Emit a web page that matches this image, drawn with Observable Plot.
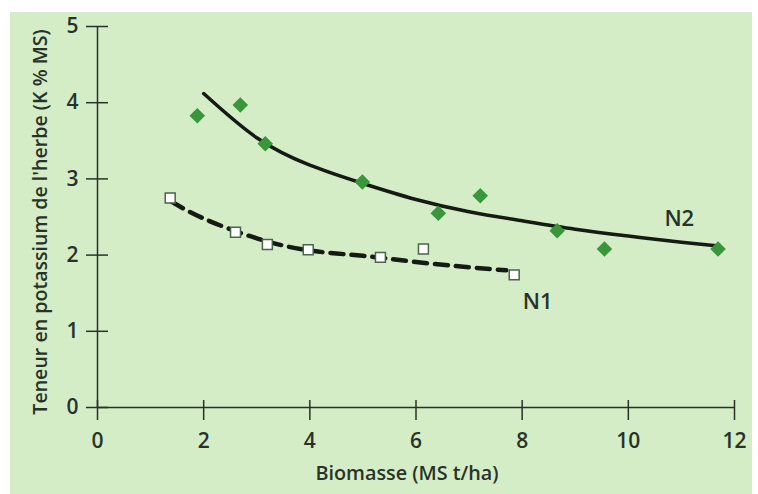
<!DOCTYPE html>
<html>
<head>
<meta charset="utf-8">
<script src="https://cdn.jsdelivr.net/npm/d3@7"></script>
<script src="https://cdn.jsdelivr.net/npm/@observablehq/plot@0.6"></script>
<style>
  html, body { margin: 0; padding: 0; background: #ffffff; }
  #wrap { position: relative; width: 758px; height: 494px; overflow: hidden; }
  #panel { position: absolute; left: 10px; top: 12px; width: 742px; height: 482px; background: #d5edc6; }
  #chart { position: absolute; left: 0; top: 0; }
  #chart svg { background: transparent; }
</style>
</head>
<body>
<div id="wrap"><div id="panel"></div><div id="chart"></div></div>
<script>
// Observed points, N2 (green diamonds)
const n2X = [1.88, 2.69, 3.16, 4.99, 6.42, 7.21, 8.66, 9.55, 11.69];
const n2Y = [3.83, 3.97, 3.46, 2.96, 2.55, 2.78, 2.32, 2.08, 2.08];
// Observed points, N1 (open squares)
const n1X = [1.37, 2.6, 3.2, 3.97, 5.33, 6.14, 7.85];
const n1Y = [2.75, 2.30, 2.14, 2.07, 1.97, 2.08, 1.74];
// Fitted curves
const n2CurveX = [2.0, 3.0, 4.0, 5.0, 6.0, 7.0, 8.0, 9.0, 10.0, 11.0, 11.7];
const n2CurveY = [4.12, 3.54, 3.18, 2.94, 2.73, 2.57, 2.45, 2.34, 2.25, 2.17, 2.12];
const n1CurveX = [1.4, 2.0, 3.0, 4.0, 5.0, 6.0, 7.0, 7.7];
const n1CurveY = [2.70, 2.48, 2.22, 2.06, 1.99, 1.91, 1.84, 1.80];
// Tick values and texts
const xTicks = [0, 2, 4, 6, 8, 10, 12];
const yTicks = [0, 1, 2, 3, 4, 5];
const xTitle = "Biomasse (MS t/ha)";
const yTitle = "Teneur en potassium de l'herbe (K % MS)";
const seriesLabels = [
  {name: "N2", x: 10.96, y: 2.47},
  {name: "N1", x: 8.29, y: 1.38}
];

const n2 = n2X.map((x, i) => ({x, y: n2Y[i]}));
const n1 = n1X.map((x, i) => ({x, y: n1Y[i]}));
const n2c = n2CurveX.map((x, i) => ({x, y: n2CurveY[i]}));
const n1c = n1CurveX.map((x, i) => ({x, y: n1CurveY[i]}));

const ink = "#27332a";
const font = "'Open Sans', sans-serif";
const fmt = d3.format("d");

const chart = Plot.plot({
  width: 758,
  height: 494,
  marginLeft: 97,
  marginRight: 24,
  marginTop: 26,
  marginBottom: 87,
  style: {background: "transparent", fontFamily: font, color: ink},
  x: {domain: [0, 12], ticks: xTicks, label: null},
  y: {domain: [0, 5], ticks: yTicks, label: null},
  marks: [
    Plot.ruleY([0], {stroke: ink, strokeWidth: 1.5}),
    Plot.ruleX([0], {stroke: ink, strokeWidth: 1.5}),
    Plot.axisY(yTicks, {text: null, tickSize: 22, dx: 11, stroke: ink, strokeWidth: 1.5, label: null}),
    Plot.axisX(xTicks, {text: null, tickSize: 20, dy: -7, stroke: ink, strokeWidth: 1.5, label: null}),
    Plot.axisY(yTicks, {tickSize: 0, tickPadding: 19, tickFormat: fmt, fontSize: 21, fontWeight: 600, fill: ink, label: null}),
    Plot.axisX(xTicks, {tickSize: 0, tickPadding: 26, tickFormat: fmt, fontSize: 21, fontWeight: 600, fill: ink, label: null}),
    Plot.text([xTitle], {frameAnchor: "bottom", dy: 72, dx: -9, fontSize: 19.8, fontWeight: 600, fill: ink}),
    Plot.text([yTitle], {frameAnchor: "left", textAnchor: "middle", rotate: -90, dx: -57, dy: 5, fontSize: 19.6, fontWeight: 600, fill: ink}),
    Plot.line(n2c, {x: "x", y: "y", stroke: "#141a14", strokeWidth: 3.5, curve: "natural"}),
    Plot.line(n1c, {x: "x", y: "y", stroke: "#141a14", strokeWidth: 4.5, strokeDasharray: "13,8", curve: "natural"}),
    Plot.dot(n2, {x: "x", y: "y", symbol: "square", rotate: 45, r: 6.2, fill: "#3a963a", stroke: "none"}),
    Plot.dot(n1, {x: "x", y: "y", symbol: "square", r: 5.6, fill: "#ffffff", stroke: "#4a664a", strokeWidth: 1.5}),
    Plot.text(seriesLabels, {x: "x", y: "y", text: "name", fontSize: 22, fontWeight: 600, fill: ink})
  ]
});
document.getElementById("chart").appendChild(chart);
</script>
</body>
</html>
